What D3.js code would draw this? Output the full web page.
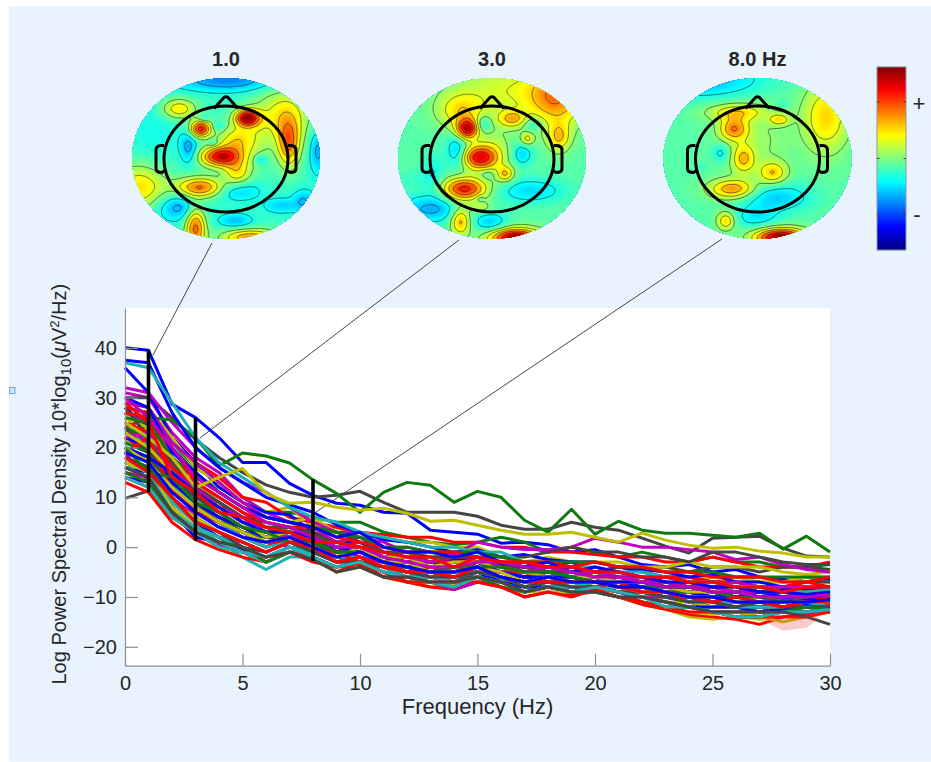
<!DOCTYPE html>
<html>
<head>
<meta charset="utf-8">
<script src="https://cdn.jsdelivr.net/npm/d3@7"></script>
<style>
html, body { margin: 0; padding: 0; background: #fff; }
text { font-family: "Liberation Sans", Arial, sans-serif; fill: #262626; }
</style>
</head>
<body>
<div id="chart"></div>
<script>
// Frequencies for every channel trace
const freqs = d3.range(0, 31);
const xTicks = [0, 5, 10, 15, 20, 25, 30];
const yTicks = [-20, -10, 0, 10, 20, 30, 40];

// Channel spectra (dB), one row per channel
const blueSeries = [
    [40,39.5,28.7,26,22,17,17,12.8,10.4,8.8,8.4,7,6.8,3.4,3,2.6,.8,1,.5,-1,-.5,-2,-3.5,-4,-3.5,-5,-4.5,-6,-6.5,-7,-6.5],
    [37.5,37,27,20,16,13,10,8.5,7,4.5,3,1.5,1,0,-1,-.5,-2,-1.5,-2.5,-3,-3,-4,-4.5,-5,-6,-5.5,-7,-7,-8,-8.5,-8],
    [36,31,22,17,12,9,7,6.5,3,1,1,-1,-2,-3,-2.5,-2,-3.5,-4,-4,-3,-5,-4,-5,-6,-6,-7,-8,-8,-8.5,-9,-9],
    [30,28,19,15,11,8,6,5,4,2,3,0,-1,-1,-2,-1,-3,-4,-3,-5,-4,-5,-6,-7,-7,-8,-8,-9,-9,-9.5,-9],
    [26,24,17,12,9,6,3,4,2,0,1,-1,-2,-3,-3,-2,-4,-5,-5,-6,-5,-6,-7,-8,-8,-9,-9,-10,-10,-10,-9.5],
    [22,20,13,9,6,4,2,3,2,-1,0,-2,-3,-4,-4,-3,-5,-6,-6,-6,-6,-7,-8,-8,-9,-10,-10,-10,-11,-10.5,-10],
    [19,17,11,7,4,2,1,2,0,-2,-1,-3,-4,-5,-5,-4,-6,-7,-6,-7,-7,-8,-8,-9,-10,-10,-11,-11,-11,-11,-10.5],
    [16,15,9,5,2,1,-1,1,0,-2,-1,-3,-5,-5,-6,-5,-6,-7,-7,-8,-8,-8,-9,-10,-10,-11,-12,-12,-12,-11.5,-11],
    [14,13,7,2,1,-.5,-2,0,-1,-3,-2,-4,-5,-6,-6,-5,-7,-8,-8,-8,-8,-9,-10,-11,-12,-12,-12,-13,-12.5,-12,-12],
    [24,22,13,8,5,3,2,3,1,-1,0,-3,-3,-3,-3,-2,-3,-4,-4,-4,-5,-6,-6,-6,-7,-7,-7,-8,-8,-8,-8],
    [20,18,15,11,8,5,3,3,2,0,-1,-3,-4,-5,-5,-4,-5,-6,-6,-6,-7,-7,-7,-8,-8,-9,-10,-9,-10,-10.5,-11],
    [28,24,14,9,6,3,1,1,0,-3,-2,-4,-4,-4,-3,-2,-4,-5,-6,-7,-7,-7,-8,-9,-10,-10,-9,-10,-9,-9,-8.5]
];
const tealSeries = [
    [37,36,29,22,17,14,11,8,6,5,3,2,1,0,0,-1,-1,-3,-3,-4,-4,-5,-5,-6,-7,-7,-8,-8,-9,-9,-8.5],
    [25,23,16,11,7,4,3,3,2,0,0,-2,-3,-3,-4,-3,-4,-5,-5,-5,-6,-6,-7,-8,-8,-8,-9,-9,-10,-9.5,-9],
    [21,19,11,8,5,3,0,2,1,-1,-1,-3,-3,-4,-5,-3,-5,-5,-6,-7,-6,-7,-8,-9,-9,-9,-10,-10,-9,-9.5,-10],
    [19,17,9,5,3,1,-1,1,0,-2,-1,-3,-5,-5,-6,-5,-6,-7,-6,-7,-8,-8,-9,-9,-10,-11,-11,-11,-11,-11,-10.5],
    [18,15,7,4,1,-1,-3,-1,-1,-3,-2,-4,-5,-6,-6,-5,-6,-8,-7,-8,-7,-8,-9,-10,-11,-11,-12,-12,-12,-11,-11],
    [17,15,8,3,1,-2,-4.5,-2,-2,-4,-3,-5,-6,-7,-7,-6,-6.5,-8,-8,-8,-8,-9,-10,-11,-12,-13,-13,-12,-12.5,-12,-12],
    [16,14,7,4,2,0,-2,0,-1,-3,-2,-4,-6,-6,-7,-6,-7,-9,-8,-8,-8,-9,-10,-11,-12,-13,-13,-14,-13,-13,-12],
    [14,12,6,3,0,-1,-2,0,-2,-4,-3,-5,-6,-7,-8,-6,-7,-9,-8,-9,-8,-9,-10,-12,-12,-13,-14,-14,-13,-13,-12.5],
    [23,21,18,12,8,5,3,3,2,0,0,-1,-2,-2,-3,-2,-4,-5,-5,-5,-6,-6,-6,-7,-8,-9,-9,-10,-11,-11,-11],
    [27,20,12,9,6,4,2,2,1,-1,-2,-3,-3,-4,-4,-3,-4,-4,-5,-6,-7,-7,-8,-8,-8,-9,-9,-9,-8,-8,-8.5],
    [16,16,13,8,5,2,0,1,0,-2,-2,-4,-4,-5,-6,-4,-5,-7,-7,-7,-6,-7,-9,-9,-9,-10,-11,-11,-12,-12,-11]
];
const purpleSeries = [
    [32,31,25,20,16,13,11,8,5,3,3,0,0,-1,-1.5,1,0,-.5,-.5,0,1.8,1,0,0,-.5,-1,-2.5,-2,-3.5,-4.5,-5],
    [31,30,23,18,15,10,7,5,4,3,2,1,-1,-2,-3,-2,-3,-3,-4,-4,-5,-5,-6,-6,-7,-7,-7,-8,-8,-9,-8.5],
    [29,28,21,17,13,9,6,5,4,1,2,-1,-2,-3,-2,-2,-4,-5,-4,-5,-5,-6,-6,-7,-8,-8,-9,-9,-9,-10,-9],
    [27,25,18,13,10,7,4,4,2,1,1,-2,-3,-3,-4,-3,-5,-6,-5,-6,-6,-7,-8,-9,-9,-9,-10,-10,-10.5,-10,-10],
    [24,21,15,10,8,5,3,3,1,-1,0,-2,-3,-4,-5,-4,-5,-6,-6,-7,-6,-8,-8,-9,-10,-10,-11,-11,-10,-10,-10.5],
    [21,19,12,7,5,2,0,2,1,-2,-1,-3,-5,-5,-6,-4,-5,-7,-7,-7,-7,-8,-9,-10,-10,-11,-12,-12,-11,-11,-11],
    [18,16,10,6,3,1,-1,1,-1,-3,-2,-4,-4,-6,-7,-5,-6,-8,-7,-8,-8,-9,-10,-10,-11,-12,-12,-13,-12,-12,-12],
    [15,14,7,3,.5,-1,-3,-1,-2,-4,-3,-5,-6,-7,-8.5,-7,-7,-9,-8,-9,-8,-9,-11,-12,-12,-13,-13,-14,-13,-13,-13],
    [30,26,20,14,11,8,5,4,2,0,0,-2,-3,-4,-4,-3,-3,-4,-4,-5,-6,-6,-7,-8,-8,-9,-9,-10,-10,-10,-9.5],
    [22,23,15,12,8,6,3,2,2,0,-2,-3,-3,-3,-2,-2,-4,-5,-6,-6,-6,-7,-7,-7,-8,-8,-7,-8,-8,-8,-8.5],
    [19,13,9,7,4,2,1,0,-1,-2,-3,-4,-5,-5,-6,-5,-5,-6,-7,-7,-7,-8,-8,-9,-9,-11,-11,-11,-12,-11,-10]
];
const graySeries = [
    [30,30,26,21.6,18,15,12.5,11,10,10.4,11.2,9,7,7,7,6.2,4.4,3.6,3.6,5,4,3.4,1.8,.2,-1.2,1.8,2,2.2,-.2,-1.8,-2],
    [27,26,20,15,11,8,6,5,4,3,1,-1,-1,-2,-2,-2,-2,-2,-1,0,-1,-1,-2,-2,-3,-1,-1,-2,-3,-3.5,-3.5],
    [25,23,17,12,9,6,5,4,3,1,0,-2,-2,-3,-4,-3,-3,-5,-5,-5,-5,-4,-4,-4,-5,-4,-4,-5,-4,-4,-4.5],
    [22,20,14,10,7,4,2,3,2,0,-1,-2,-4,-4,-4,-4,-5,-6,-5,-6,-6,-7,-7,-8,-8,-8,-8,-9,-9,-9,-8],
    [20,18,12,7,4,2,1,2,1,-2,-1,-3,-4,-5,-5,-4,-6,-7,-7,-7,-7,-8,-8,-9,-10,-10,-11,-11,-11,-11,-11],
    [18,16,10,5,3,0,-1,1,-1,-3,-3,-4,-5,-6,-6,-5,-6,-8,-7,-8,-8,-9,-9,-10,-11,-11,-12,-11,-12,-12,-12],
    [16,14,7,3,1,0,-2,-1,-2.5,-5,-4,-6,-6,-7,-7,-6,-7,-9,-8,-9,-9,-10,-10,-11,-12,-13,-13,-13,-13,-14,-15.5],
    [9.8,11.3,6,3,1,-1,-3,-1,-1,-3,-3,-4,-5,-6,-6,-6,-6,-7,-7,-8,-8,-9,-9,-10,-11,-12,-12,-12,-12,-13,-13],
    [24,19,15,10,7,4,3,3,1,0,-1,-3,-3,-3,-4,-3,-4,-4,-5,-6,-6,-6,-7,-8,-8,-9,-9,-10,-10,-10,-9],
    [28,22,13,9,5,3,2,1,0,-1,-2,-3,-4,-4,-5,-4,-5,-5,-6,-6,-7,-7,-7,-7,-8,-8,-9,-8,-8,-7,-7]
];
const yellowSeries = [
    [25,22,18,12,14,15.8,10.8,8.8,9,8,7.4,7.8,6.8,5.2,5.4,4.4,3.4,2.6,2.6,3,2,1,2.8,1.4,.4,-.2,0,-.8,-1.2,-2,-2],
    [29,28,22,16,13,9,6,5,6,3,2,2,1,1,0,0,-2,-3,-2,-3,-3,-3,-4,-4,-3,-4,-4,-4,-5,-5.5,-5],
    [26,24,18,14,11,8,6,5,3,1,1,0,-1,-1,-2,-2,-3,-4,-4,-4,-5,-5,-6,-6,-7,-6,-6,-7,-7,-7,-7],
    [23,20,15,11,8,5,2,3,2,0,0,-2,-2,-4,-3,-3,-4,-5,-6,-6,-6,-7,-7,-8,-9,-9,-8,-8,-9,-9,-9],
    [20,17,12,8,5,3,1,2,0,-2,0,-3,-3,-5,-5,-4,-5,-7,-6,-7,-7,-8,-9,-9,-10,-10,-11,-10,-11,-11,-11],
    [18,15,9,6,3,0,-2,0,-1,-3,-2,-4,-5,-6,-6,-5,-6,-8,-7,-8,-8,-9,-10,-11,-11,-12,-12,-13,-13,-12,-12],
    [17,15,8,4,1,-1,-3,-1,-2,-5,-3,-5,-7,-7,-8,-6,-8,-9,-9,-9,-9,-10,-11,-12,-13,-13.5,-13,-14,-15,-14,-13],
    [15,13,7,3,0,-1,-2,-1,-2.5,-5,-4,-6,-7,-8,-7.5,-7,-7,-9,-8,-9,-8.5,-10,-11.5,-12.5,-14,-14.5,-14,-14.5,-14,-13,-13],
    [21,24,15,14,12,9,7,8,4,4,2,0,-1,-2,-3,-2,-3,-4,-4,-5,-5,-6,-6,-6,-7,-6,-7,-7,-7,-6,-6],
    [27,19,16,12,10,7,4,3,5,2,3,-1,-2,-2,-1,-2,-4,-4,-5,-5,-5,-6,-6,-8,-7,-8,-8,-9,-8,-8,-8]
];
const greenSeries = [
    [27,26,25.5,22,16.3,18.9,18.3,16.9,13.5,10.8,7,11,13,12.4,9,11.2,10,5.4,3,7.6,2.6,5.2,3.4,2.8,2.8,2.4,2,2.8,-.4,2.2,-1],
    [28,27,21,16,13,9,7,7,6,5,5,3,2,1,.5,1,2,1,-1,0,-1,-2,-1,-2,-3,-2,-3,-3,-4,-4,-3.5],
    [26,25,18,14,11,8,6,5,4,3,2,0,0,-1,-1,-1,-2,-3,-3,-3,-3,-4,-4,-5,-5,-5,-6,-6,-6,-6,-6],
    [24,22,16,12,9,6,4,4,2,1,0,-2,-2,-3,-3,-3,-4,-5,-5,-5,-6,-6,-7,-7,-8,-8,-8,-9,-9,-9,-9],
    [21,19,13,9,6,3,2,3,1,-1,-1,-3,-4,-4,-5,-4,-5,-6,-6,-7,-7,-7,-8,-9,-9,-10,-10,-10,-10,-10,-10.5],
    [19,17,10,6,3,1,-1,1,0,-2,-2,-4,-5,-6,-5,-5,-6,-7,-7,-8,-8,-9,-9,-10,-10,-11,-11,-12,-12,-11,-11],
    [16,14,8,4,2,-1,-2,0,-1,-3,-2,-4,-6,-6,-7,-6,-7,-8,-8,-9,-8,-9,-10,-11,-12,-12,-12,-13,-13,-13,-12],
    [15,13,7,3,1,0,-3,-1,-2,-4,-3,-5,-7,-7,-8,-6,-8,-9,-8,-9,-9,-10,-11,-12,-12,-13,-14,-14,-13,-12,-12.5],
    [23,24,16,11,8,5,3,4,1,1,-1,-1,-2,-2,-3,-2,-4,-3,-5,-5,-6,-5,-6,-6,-7,-6,-6,-6,-7,-6,-7],
    [20,15,14,9,7,4,3,1,1,-1,-1,-3,-4,-5,-4,-4,-4,-5,-5,-6,-7,-8,-8,-8,-8,-9,-10,-10,-11,-10,-9]
];
const redSeries = [
    [28,27,22,17,14,10,9,6,5,4,3,2.5,2,2,1,1,0,0,-1,-1,-1.5,-2,-2,-3,-3,-2,-3,-4,-4,-4,-3],
    [27,26,20,13,10,7,5,4,4,2,1,0,-1,-1,-1,-2,-3,-3,-3,-4,-3,-4,-4,-5,-5,-6,-6,-6,-7,-7,-6],
    [25,23,16,12,8,5,3,2,2,0,1,-2,-2,-3,-3,-3,-4,-5,-4,-5,-6,-6,-7,-6,-6,-7,-7,-8,-8,-7,-8],
    [22,19,14,9,6,4,2,3,2,-1,-1,-2,-3,-4,-3,-3,-5,-6,-6,-6,-5,-6,-7,-8,-9,-8,-9,-9,-10,-9,-9],
    [20,17,12,7,5,2,0,2,1,-2,-1,-3,-4,-5,-5,-3,-5,-6,-5,-6,-6,-8,-8,-9,-9,-10,-10,-11,-10,-10,-10],
    [18,15,10,5,3,1,-1,1,0,-3,-2,-4,-5,-5,-6,-4,-6,-7,-7,-7,-7,-8,-9,-9,-10,-11,-10,-11,-12,-11,-11],
    [17,15,7,4,2,-1,-2,0,-1,-3,-2,-4,-6,-6,-7,-5,-7,-8,-7,-8,-8,-9,-10,-10,-11,-12,-12,-13,-12,-12,-11.5],
    [15,13,8,3,1,0,-3,-1,-2,-4,-3,-6,-6,-7,-8,-6,-7,-9,-8,-9,-8,-9,-10,-11,-12,-13,-13,-13,-13,-13,-12],
    [14,12,6,3,0,-1,-2,-1,-2,-5,-3,-5,-7,-7,-7,-7,-8,-10,-9,-10,-8.5,-10,-11,-12,-13,-13,-14,-14,-14,-14,-13],
    [13,11,5,1.5,-.5,-2,-3,-1,-3,-4,-3.5,-6,-7,-8,-8.5,-7,-8,-10,-9,-9.5,-9,-10,-11.5,-12.5,-13.5,-14,-14.5,-15.5,-14,-13.5,-12.5],
    [29,25,14,11,7,6,4,3,1,1,0,-1,-2,-2,-4,-2,-3,-3,-4,-4,-5,-5,-6,-6,-7,-7,-8,-8,-9,-8,-8],
    [24,26,18,12,9,5,4,2,3,-1,0,-2,-1,-3,-2,-3,-3,-5,-4,-5,-6,-6,-6,-8,-7,-9,-8,-9,-8,-9,-10],
    [19,22,11,8,5,3,1,2,-1,-1,-3,-3,-5,-4,-5,-4,-5,-5,-7,-7,-8,-7,-9,-9,-11,-10,-11,-11,-12,-11,-10]
];
const channelColors = ["#0000ff", "#20b2b2", "#bf00bf", "#454545", "#bfbf00", "#107a10", "#ff0000"];
const channelGroups = [blueSeries, tealSeries, purpleSeries, graySeries, yellowSeries, greenSeries, redSeries];
// Row picked at each round, so that neighbours in level do not stack in order
const rowOrder = [4, 11, 0, 7, 9, 2, 12, 8, 5, 1, 10, 6, 3];

// Pale red error patch near 28 Hz
const patchFreqs = [27.3, 28, 29, 29.5];
const patchLow = [-15.2, -16.8, -16.2, -14.5];
const patchHigh = [-13.5, -14, -13.8, -13.2];

// Black markers on the spectra
const markerFreqs = [1, 3, 8];
const markerLow = [11, 1.3, -2.8];
const markerHigh = [39.6, 26, 13.6];
const markerLabels = ["1.0", "3.0", "8.0 Hz"];

// Scalp map blobs: [x, y, amplitude, spreadX, spreadY], in scalp units of a 564 x 482 frame
const topo1Blobs = [
    [288,348,.45,35,18], [333,300,.2,30,26], [368,232,.48,22,15], [228,265,.43,19,15],
    [493,310,.3,20,42], [478,225,.2,48,48], [228,440,.33,42,18], [163,205,.22,30,18],
    [213,560,.34,18,38], [378,590,.3,50,15], [45,440,.22,48,40], [338,395,.2,24,24],
    [193,320,-.15,15,28], [308,118,-.18,90,20], [580,330,-.14,15,40], [163,500,-.15,40,24],
    [338,450,-.12,40,18], [468,495,-.1,30,14], [333,540,-.12,30,13], [408,357,-.1,12,10],
    [238,235,-.08,10,6], [281,258,-.08,10,7], [266,308,-.08,8,6], [538,480,-.12,20,20],
    [90,270,-.04,50,60], [390,300,.08,30,50]
];
const topo2Blobs = [
    [230,265,.43,20,18], [265,350,.4,30,21], [222,445,.4,38,20], [345,400,.2,15,14],
    [365,235,.2,25,15], [210,210,.17,40,30], [500,170,.26,50,50], [505,290,.2,20,25],
    [210,540,.25,18,25], [375,590,.5,45,16], [410,295,.15,12,12], [270,500,.1,20,10],
    [310,340,.1,30,40], [200,330,-.15,18,30], [278,250,-.13,14,14], [395,340,-.13,18,20],
    [425,250,-.1,18,14], [120,505,-.16,60,25], [420,450,-.12,60,22], [300,545,-.13,30,18],
    [290,400,-.07,15,10], [70,415,-.03,35,18], [268,473,-.07,8,6], [350,150,.12,100,50],
    [130,400,-.07,20,40]
];
const topo3Blobs = [
    [233,265,.26,25,20], [262,355,.2,20,25], [350,397,.2,25,20], [230,445,.27,40,17],
    [240,215,.18,50,15], [370,237,.17,18,10], [210,540,.2,16,16], [510,230,.2,40,60],
    [375,590,.52,45,16], [195,337,-.1,16,16], [140,378,-.05,8,6], [360,470,-.14,60,25],
    [300,530,-.1,40,20], [130,120,-.16,110,30], [380,190,-.05,10,8], [300,300,.06,60,60]
];
const topoBases = [0.44, 0.47, 0.47];
const contourLevels = [.24, .32, .4, .52, .6, .68, .76, .84, .92];

const width = 931;
const height = 762;

const svg = d3.select("#chart").append("svg")
    .attr("width", width)
    .attr("height", height)
    .style("display", "block");

svg.append("rect")
    .attr("x", 9).attr("y", 6)
    .attr("width", width - 9).attr("height", 755.5)
    .attr("fill", "#e8f3fe");

// Stray little square on the left edge
svg.append("rect")
    .attr("x", 9.5).attr("y", 387.5)
    .attr("width", 5.5).attr("height", 6)
    .attr("fill", "#cfe3f7").attr("stroke", "#6ea6d8").attr("stroke-width", 1);

// Main axes
const x = d3.scaleLinear().domain([0, 30]).range([125, 830]);
const y = d3.scaleLinear().domain([-23.8, 48]).range([665.7, 308]);

svg.append("rect")
    .attr("x", x(0)).attr("y", y(48))
    .attr("width", x(30) - x(0)).attr("height", y(-23.8) - y(48))
    .attr("fill", "#fff");

// Lines from the maps to the markers
const leaderTops = [[212, 243], [459, 240], [722, 239]];
const leaderEnds = [[153, 355], [200, 438], [316, 512]];
svg.append("g").selectAll("line")
    .data(leaderTops)
    .join("line")
    .attr("x1", d => d[0]).attr("y1", d => d[1])
    .attr("x2", (d, i) => leaderEnds[i][0]).attr("y2", (d, i) => leaderEnds[i][1])
    .attr("stroke", "#333").attr("stroke-width", 0.9);

const line = d3.line().x((d, i) => x(freqs[i])).y(d => y(d));

// Channels go down round robin so the colours interleave as in the original
const traces = [];
rowOrder.forEach((row, i) => {
    channelGroups.forEach((group, g) => {
        const r = rowOrder[(i + g * 4) % rowOrder.length];
        if (group[r]) traces.push({ values: group[r], color: channelColors[g] });
    });
});

svg.append("g").selectAll("path")
    .data(traces)
    .join("path")
    .attr("d", d => line(d.values))
    .attr("fill", "none")
    .attr("stroke", d => d.color)
    .attr("stroke-width", 3)
    .attr("stroke-linejoin", "round");

const patch = d3.area()
    .x((d, i) => x(patchFreqs[i]))
    .y0((d, i) => y(patchLow[i]))
    .y1(d => y(d));
svg.append("path")
    .attr("d", patch(patchHigh))
    .attr("fill", "#f03030")
    .attr("opacity", 0.25);

svg.append("g").selectAll("line")
    .data(markerFreqs)
    .join("line")
    .attr("x1", d => x(d)).attr("x2", d => x(d))
    .attr("y1", (d, i) => y(markerLow[i])).attr("y2", (d, i) => y(markerHigh[i]))
    .attr("stroke", "#000").attr("stroke-width", 3.6);

const xAxis = d3.axisBottom(x).tickValues(xTicks).tickSizeInner(-12).tickSizeOuter(0).tickPadding(22);
const yAxis = d3.axisLeft(y).tickValues(yTicks).tickSizeInner(-13).tickSizeOuter(0).tickPadding(8);

const gx = svg.append("g").attr("transform", `translate(0,${y(-23.8)})`).call(xAxis);
const gy = svg.append("g").attr("transform", `translate(${x(0)},0)`).call(yAxis);
[gx, gy].forEach(g => {
    g.selectAll("path, line").attr("stroke", "#8f8f8f").attr("stroke-width", 1.2);
    g.selectAll("text").attr("font-size", 20).attr("fill", "#262626")
        .attr("font-family", "Liberation Sans");
});
gx.selectAll("text").attr("dy", 0).attr("y", 24);

svg.append("text")
    .attr("x", 477.5).attr("y", 714)
    .attr("text-anchor", "middle")
    .attr("font-size", 22)
    .attr("fill", "#111")
    .text("Frequency (Hz)");

const yLabel = svg.append("text")
    .attr("transform", "translate(66,684.5) rotate(-90)")
    .attr("font-size", 20)
    .attr("fill", "#111");
yLabel.append("tspan").text("Log Power Spectral Density 10*log");
yLabel.append("tspan").attr("font-size", 15).attr("dy", 5).text("10");
yLabel.append("tspan").attr("dy", -5).text("(");
yLabel.append("tspan").attr("font-style", "italic").text("\u03bc");
yLabel.append("tspan").text("V");
yLabel.append("tspan").attr("font-size", 13).attr("dy", -7).text("2");
yLabel.append("tspan").attr("dy", 7).text("/Hz)");

// Jet colour map
const clamp01 = v => Math.max(0, Math.min(1, v));
const jet = t => d3.rgb(
    255 * clamp01(1.5 - Math.abs(4 * t - 3)),
    255 * clamp01(1.5 - Math.abs(4 * t - 2)),
    255 * clamp01(1.5 - Math.abs(4 * t - 1))
).formatHex();

// Scalp maps
const topoCentersX = [226, 492, 757.5];
const topoRx = 94, topoRy = 80.5, topoCy = 158.5;
const headRx = 62, headRy = 53;
const fillLevels = d3.range(0.01, 1, 0.0125);
const blobSpread = 1.18;

const drawTopo = (blobs, cx, idx) => {
    const sx = d3.scaleLinear().domain([24, 588]).range([cx - topoRx, cx + topoRx]);
    const sy = d3.scaleLinear().domain([114, 596]).range([topoCy - topoRy, topoCy + topoRy]);
    const n = 2 * topoRx + 4, m = Math.ceil(2 * topoRy) + 4;
    const left = cx - topoRx - 2, top = topoCy - topoRy - 2;
    const field = new Float64Array(n * m);
    for (let j = 0; j < m; j++) {
        for (let i = 0; i < n; i++) {
            let v = topoBases[idx];
            blobs.forEach(b => {
                const dx = (left + i - sx(b[0])) * 3 / (b[3] * blobSpread);
                const dy = (top + j - sy(b[1])) * 3 / (b[4] * blobSpread);
                v += b[2] * Math.exp(-0.5 * (dx * dx + dy * dy));
            });
            field[j * n + i] = clamp01(v);
        }
    }

    svg.append("clipPath").attr("id", `topo-clip-${idx}`)
        .append("ellipse")
        .attr("cx", cx).attr("cy", topoCy)
        .attr("rx", topoRx).attr("ry", topoRy);

    const g = svg.append("g").attr("clip-path", `url(#topo-clip-${idx})`);
    g.append("ellipse")
        .attr("cx", cx).attr("cy", topoCy)
        .attr("rx", topoRx).attr("ry", topoRy)
        .attr("fill", jet(0.01));

    const path = d3.geoPath();
    const inner = g.append("g").attr("transform", `translate(${left},${top})`);
    inner.selectAll("path.fill")
        .data(d3.contours().size([n, m]).thresholds(fillLevels)(field))
        .join("path")
        .attr("class", "fill")
        .attr("d", path)
        .attr("fill", d => jet(d.value));
    inner.selectAll("path.iso")
        .data(d3.contours().size([n, m]).thresholds(contourLevels)(field))
        .join("path")
        .attr("class", "iso")
        .attr("d", path)
        .attr("fill", "none")
        .attr("stroke", "#1a1a1a")
        .attr("stroke-opacity", 0.7)
        .attr("stroke-width", 0.8);

    // Head outline, nose and ears
    const head = svg.append("g").attr("fill", "none").attr("stroke", "#000")
        .attr("stroke-width", 3).attr("stroke-linejoin", "round");
    head.append("ellipse")
        .attr("cx", cx).attr("cy", topoCy + 0.5)
        .attr("rx", headRx).attr("ry", headRy);
    head.append("path")
        .attr("d", `M${cx - 12},${topoCy - 50}L${cx - 2},${topoCy - 61}Q${cx},${topoCy - 62.5} ${cx + 2},${topoCy - 61}L${cx + 12},${topoCy - 50}`);
    [-1, 1].forEach(s => {
        head.append("path")
            .attr("d", `M${cx + s * 62},${topoCy - 13}L${cx + s * 65},${topoCy - 13}Q${cx + s * 70},${topoCy - 13} ${cx + s * 70},${topoCy - 8}L${cx + s * 70},${topoCy + 10}Q${cx + s * 70},${topoCy + 14} ${cx + s * 64},${topoCy + 14}L${cx + s * 61},${topoCy + 12}`);
    });

    svg.append("text")
        .attr("x", cx).attr("y", 66)
        .attr("text-anchor", "middle")
        .attr("font-size", 20)
        .attr("font-weight", "bold")
        .attr("fill", "#111")
        .text(markerLabels[idx]);
};

[topo1Blobs, topo2Blobs, topo3Blobs].forEach((b, i) => drawTopo(b, topoCentersX[i], i));

// Colour bar
const barScale = d3.scaleLinear().domain([0, 1]).range([250, 67]);
const barLevels = d3.range(0, 1, 1 / 183);
svg.append("g").selectAll("rect")
    .data(barLevels)
    .join("rect")
    .attr("x", 877).attr("width", 29)
    .attr("y", d => barScale(d) - 1.2)
    .attr("height", 1.4)
    .attr("fill", d => jet(d + 0.002));
svg.append("rect")
    .attr("x", 877).attr("y", 67).attr("width", 29).attr("height", 183)
    .attr("fill", "none").attr("stroke", "#8f9aa8").attr("stroke-width", 1);
const barTicks = [0.19, 0.5, 0.81];
svg.append("g").selectAll("path")
    .data(barTicks)
    .join("path")
    .attr("d", d => `M877,${barScale(d)}h2.5M906,${barScale(d)}h-2.5`)
    .attr("stroke", "#444").attr("stroke-width", 1);
svg.append("text").attr("x", 919).attr("y", 111).attr("text-anchor", "middle")
    .attr("font-size", 22).text("+");
svg.append("text").attr("x", 917).attr("y", 222).attr("text-anchor", "middle")
    .attr("font-size", 22).text("-");
</script>
</body>
</html>
